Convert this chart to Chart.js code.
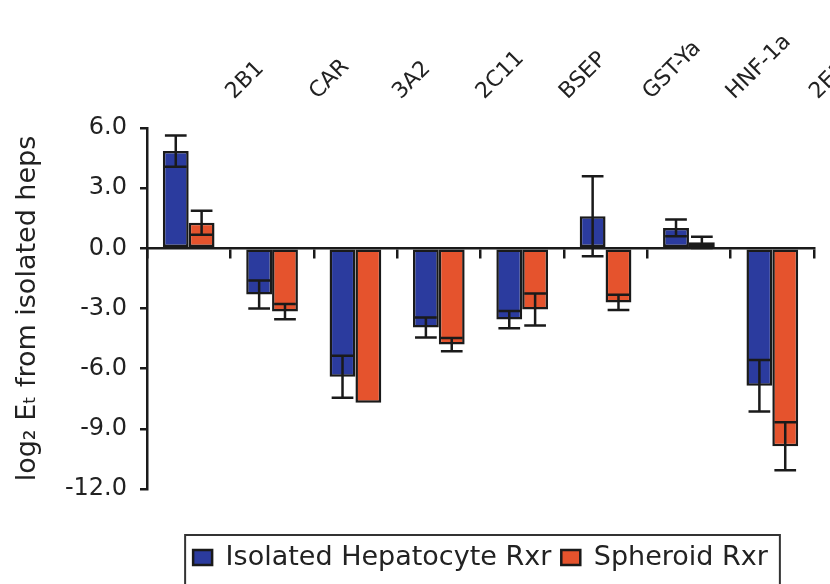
<!DOCTYPE html>
<html>
<head>
<meta charset="utf-8">
<script src="https://cdn.jsdelivr.net/npm/chart.js@4"></script>
<style>
html, body { margin: 0; padding: 0; background: #fff; }
</style>
</head>
<body>
<canvas id="chart" width="830" height="584"></canvas>
<script>
// values (log2 fold change vs isolated heps)
const genes = ['2B1', 'CAR', '3A2', '2C11', 'BSEP', 'GST-Ya', 'HNF-1a', '2E1'];
const isolatedRxr = [4.85, -2.3, -6.4, -3.95, -3.55, 1.6, 1.02, -6.85];
const isolatedErr = [0.78, 0.7, 1.05, 0.5, 0.43, 2.0, 0.42, 1.28];
const spheroidRxr = [1.28, -3.15, -7.7, -4.8, -3.05, -2.7, 0.3, -9.87];
const spheroidErr = [0.6, 0.38, 0, 0.33, 0.8, 0.38, 0.28, 1.2];
const yTicks = [-12, -9, -6, -3, 0, 3, 6];

const ink = '#1a1a1a';
const textCol = '#222';
const fontFam = '"DejaVu Sans", sans-serif';

// error bars with caps on both ends, drawn on top of the bars
const errorBars = {
    id: 'errorBars',
    afterDatasetsDraw(chart) {
        const ctx = chart.ctx;
        const y = chart.scales.y;
        chart.data.datasets.forEach((ds, i) => {
            const meta = chart.getDatasetMeta(i);
            meta.data.forEach((bar, j) => {
                const err = ds.errors[j];
                if (!err) return;
                const v = ds.data[j];
                const top = y.getPixelForValue(v + err);
                const bot = y.getPixelForValue(v - err);
                const half = bar.width * 0.42;
                ctx.save();
                ctx.strokeStyle = ink;
                ctx.lineWidth = 2.5;
                ctx.beginPath();
                ctx.moveTo(bar.x, top);
                ctx.lineTo(bar.x, bot);
                ctx.moveTo(bar.x - half, top);
                ctx.lineTo(bar.x + half, top);
                ctx.moveTo(bar.x - half, bot);
                ctx.lineTo(bar.x + half, bot);
                ctx.stroke();
                ctx.restore();
            });
        });
    }
};

// frame around the legend items
const legendBox = {
    id: 'legendBox',
    afterDraw(chart) {
        const lg = chart.legend;
        const hb = lg.legendHitBoxes;
        if (!hb || !hb.length) return;
        const left = Math.min(...hb.map(h => h.left)) - 8;
        const right = Math.max(...hb.map(h => h.left + h.width)) + 12;
        const ctx = chart.ctx;
        ctx.save();
        ctx.strokeStyle = '#333';
        ctx.lineWidth = 2;
        ctx.strokeRect(left, lg.top + 1, right - left, 80);
        ctx.restore();
    }
};

const chart = new Chart(document.getElementById('chart'), {
    type: 'bar',
    data: {
        labels: genes,
        datasets: [{
            label: 'Isolated Hepatocyte Rxr',
            data: isolatedRxr,
            errors: isolatedErr,
            backgroundColor: '#2b3b9e',
            borderColor: ink,
            borderWidth: 2.5,
            borderSkipped: false,
            categoryPercentage: 0.62,
            barPercentage: 1.0,
            xAxisID: 'x'
        }, {
            label: 'Spheroid Rxr',
            data: spheroidRxr,
            errors: spheroidErr,
            backgroundColor: '#e5532d',
            borderColor: ink,
            borderWidth: 2.5,
            borderSkipped: false,
            categoryPercentage: 0.62,
            barPercentage: 1.0,
            xAxisID: 'x'
        }]
    },
    options: {
        responsive: false,
        animation: false,
        layout: { padding: { top: 0, right: 16, bottom: 3, left: 0 } },
        plugins: {
            tooltip: { enabled: false },
            legend: {
                position: 'bottom',
                fullSize: false,
                labels: {
                    font: { family: fontFam, size: 27 },
                    color: textCol,
                    boxWidth: 19,
                    boxHeight: 15,
                    padding: 10
                }
            }
        },
        scales: {
            x: {
                type: 'category',
                position: { y: 0 },
                offset: true,
                ticks: { display: false },
                grid: { offset: true, drawOnChartArea: false, color: ink, lineWidth: 2.5, tickLength: 9 },
                border: { color: ink, width: 2.5 }
            },
            x2: {
                type: 'category',
                labels: genes,
                position: 'top',
                offset: true,
                grid: { display: false, drawTicks: false },
                border: { display: false },
                ticks: {
                    minRotation: 45,
                    maxRotation: 45,
                    labelOffset: 60,
                    padding: 23,
                    color: textCol,
                    font: { family: fontFam, size: 22 }
                },
                afterFit(s) { s.height = 128; s.paddingLeft = 0; s.paddingRight = 0; }
            },
            x3: {
                type: 'category',
                position: 'bottom',
                grid: { display: false, drawTicks: false },
                border: { display: false },
                ticks: { display: false },
                afterFit(s) { s.height = 45; }
            },
            y: {
                min: yTicks[0],
                max: yTicks[yTicks.length - 1],
                ticks: {
                    stepSize: 3,
                    padding: 13,
                    color: textCol,
                    font: { family: fontFam, size: 24 },
                    callback: v => v.toFixed(1)
                },
                grid: { drawOnChartArea: false, color: ink, lineWidth: 2.5, tickLength: 7 },
                border: { color: ink, width: 2.5 },
                title: {
                    display: true,
                    text: 'log₂ Eₜ from isolated heps',
                    color: textCol,
                    font: { family: fontFam, size: 27 },
                    padding: { top: 12, bottom: 0 }
                },
                afterFit(s) { s.width = 147; }
            }
        }
    },
    plugins: [errorBars, legendBox]
});
</script>
</body>
</html>
